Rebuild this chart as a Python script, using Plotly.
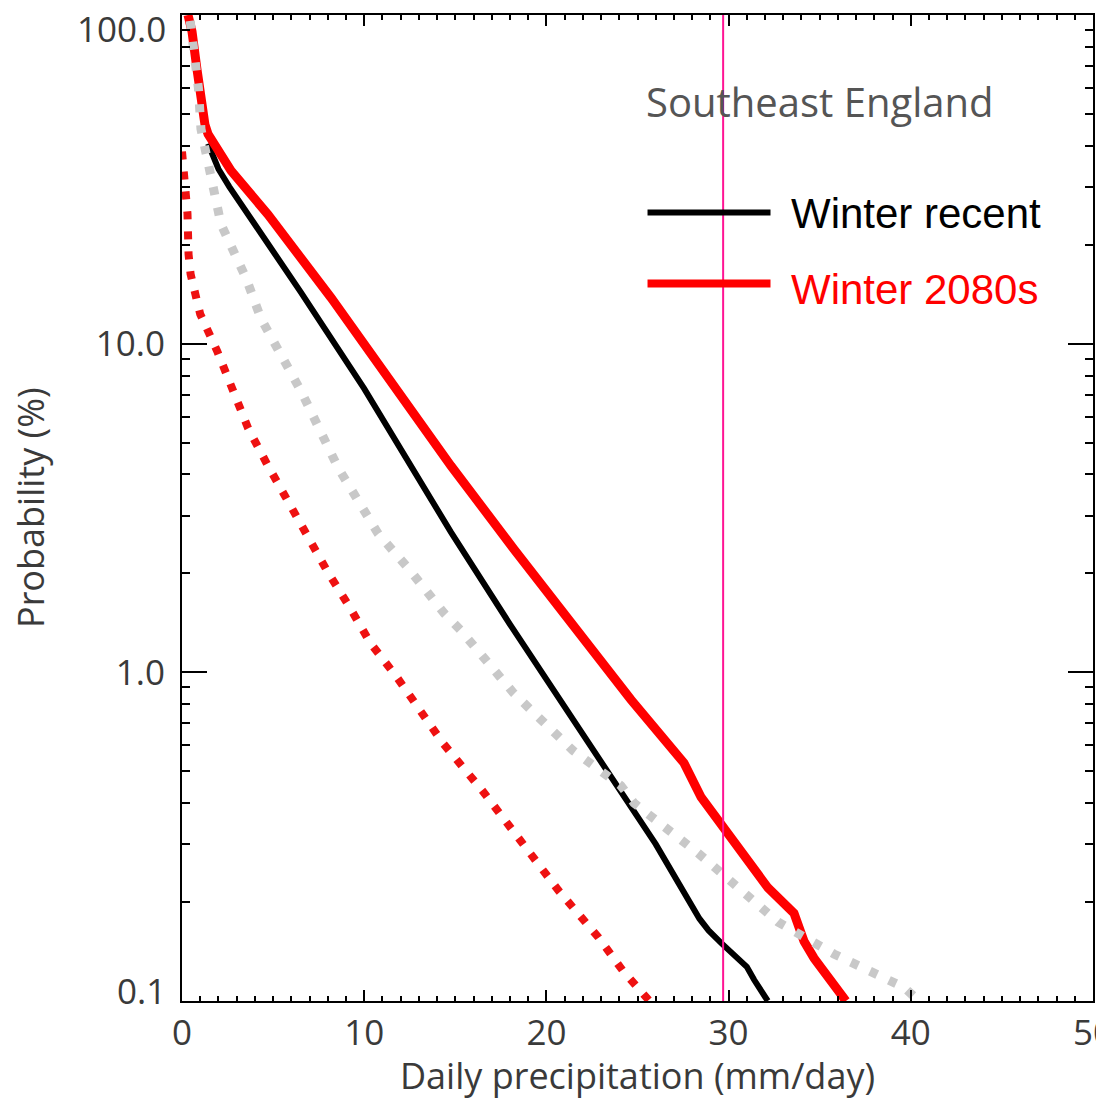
import math
import plotly.graph_objects as go

# ---- data ----
recent_x = [1.43, 2.0, 2.6, 6.5, 10.0, 14.76, 18.0, 23.0, 26.0, 28.4, 28.9, 29.6, 30.4, 31.0, 31.4, 32.15]
recent_p = [40.6, 34.0, 30.0, 14.4, 7.3, 2.67, 1.40, 0.54, 0.30, 0.178, 0.164, 0.150, 0.137, 0.127, 0.116, 0.100]

future_x = [0.33, 0.55, 0.82, 0.99, 1.26, 1.43, 2.69, 4.72, 6.53, 8.18, 14.76, 18.22,
            24.64, 27.0, 27.55, 28.49, 29.75, 31.0, 32.16, 33.59, 34.14, 34.69, 36.44]
future_p = [100.0, 89.0, 68.5, 58.3, 46.4, 43.4, 33.6, 24.7, 18.2, 13.8, 4.25, 2.37,
            0.826, 0.58, 0.53, 0.417, 0.338, 0.275, 0.221, 0.185, 0.152, 0.135, 0.100]

reddot_x = [0.0, 0.1, 0.2, 0.3, 0.36, 0.47, 0.74, 1.0, 1.93, 2.75, 3.63, 4.67, 5.77, 6.87,
            8.02, 9.23, 10.33, 11.81, 12.36, 14.34, 16.48, 18.57, 20.66, 22.86, 24.18, 25.66]
reddot_p = [38.4, 32.9, 28.6, 24.9, 18.7, 16.3, 14.1, 12.3, 9.5, 7.2, 5.53, 4.30, 3.32, 2.56,
            2.01, 1.57, 1.23, 0.964, 0.867, 0.607, 0.437, 0.308, 0.217, 0.156, 0.124, 0.100]

graydot_x = [0.45, 0.7, 0.9, 1.04, 1.43, 2.14, 3.52, 4.34, 6.54, 8.57, 10.77, 12.40, 14.4,
             15.31, 18.22, 21.46, 24.09, 24.81, 28.32, 32.71, 35.78, 39.63, 40.45]
graydot_p = [96.0, 78.0, 60.0, 45.0, 35.0, 23.1, 15.8, 11.9, 7.16, 4.19, 2.64, 2.08, 1.51,
             1.34, 0.862, 0.578, 0.452, 0.40, 0.282, 0.174, 0.139, 0.110, 0.100]

threshold_x = 29.7

x_ticks = [0, 10, 20, 30, 40, 50]
y_ticks = [0.1, 1.0, 10.0, 100.0]
# inner labels drawn by the axis; the two end labels are nudged inward (as in the
# reference) and are therefore placed as annotations at their tick values
y_tick_text = ["", "1.0", "10.0", ""]
y_end_labels = [(0.1, "0.1", 11), (100.0, "100.0", -13)]
y_minor = [m * d for d in (0.1, 1.0, 10.0) for m in range(2, 10)]

x_title = "Daily precipitation (mm/day)"
y_title = "Probability (%)"
legend_labels = ["Winter recent", "Winter 2080s"]
legend_colors = ["#000000", "#ff0000"]
region = "Southeast England"

# ---- figure ----
fig = go.Figure()
fig.add_trace(go.Scatter(x=recent_x, y=recent_p, mode="lines",
                         line=dict(color="#000000", width=6), showlegend=False))
fig.add_trace(go.Scatter(x=future_x, y=future_p, mode="lines",
                         line=dict(color="#ff0000", width=9), showlegend=False))
fig.add_trace(go.Scatter(x=reddot_x, y=reddot_p, mode="lines",
                         line=dict(color="#ee1111", width=8, dash="8px,12px"), showlegend=False))
fig.add_trace(go.Scatter(x=graydot_x, y=graydot_p, mode="lines",
                         line=dict(color="#c8c8c8", width=9, dash="8px,13px"), showlegend=False))

fig.add_shape(type="line", xref="x", yref="paper", x0=threshold_x, x1=threshold_x, y0=0, y1=1,
              line=dict(color="#ff1493", width=2))

tick_font = dict(family="Open Sans", size=35, color="#3a3a3a")
title_font = dict(family="Open Sans", size=36, color="#3a3a3a")

for val, txt, shift in y_end_labels:
    fig.add_annotation(xref="paper", yref="y", x=0, y=math.log10(val), text=txt,
                       showarrow=False, xanchor="right", yanchor="middle",
                       xshift=-14, yshift=shift, font=tick_font)

# y-axis title placed explicitly (left of the tick labels, as in the reference)
fig.add_annotation(xref="paper", yref="paper", x=0, y=0.5, text=y_title, textangle=-90,
                   showarrow=False, xanchor="center", yanchor="middle", xshift=-152,
                   font=title_font)

# legend drawn manually (long line samples)
legend_y = [0.7996, 0.7277]
legend_text_y = [0.7986, 0.7217]
legend_w = [6, 8]
for lab, col, ly, ty, w in zip(legend_labels, legend_colors, legend_y, legend_text_y, legend_w):
    fig.add_shape(type="line", xref="paper", yref="paper", x0=0.511, x1=0.646, y0=ly, y1=ly,
                  line=dict(color=col, width=w))
    fig.add_annotation(xref="paper", yref="paper", x=0.666, y=ty, text=lab, showarrow=False,
                       xanchor="left", yanchor="middle",
                       font=dict(family="Liberation Sans, Arial", size=42, color=col))

fig.add_annotation(xref="paper", yref="paper", x=0.5066, y=0.912, text=region, showarrow=False,
                   xanchor="left", yanchor="middle",
                   font=dict(family="Open Sans", size=40, color="#555555"))

fig.update_xaxes(range=[0, 50], tickvals=x_ticks, ticks="inside", ticklen=11, tickwidth=2,
                 tickcolor="black", showline=True, linecolor="black", linewidth=2,
                 mirror="allticks", showgrid=False, zeroline=False, tickfont=tick_font,
                 automargin=False, ticklabeloverflow="allow",
                 minor=dict(ticks="inside", dtick=1, ticklen=5, tickwidth=1.5, tickcolor="black",
                            showgrid=False),
                 title=dict(text=x_title, font=title_font))
fig.update_yaxes(type="log", range=[-1, 2], tickvals=y_ticks, ticktext=y_tick_text,
                 ticks="inside", ticklen=25, tickwidth=2, tickcolor="black",
                 showline=True, linecolor="black", linewidth=2, mirror="allticks",
                 showgrid=False, zeroline=False, tickfont=tick_font,
                 automargin=False, ticklabeloverflow="allow", ticklabelstandoff=8,
                 minor=dict(ticks="inside", tickvals=y_minor, ticklen=8, tickwidth=1.5,
                            tickcolor="black", showgrid=False))

# the page body adds an 8px offset; figure size/margins compensate so the
# plot area lands at the reference's pixel position
fig.update_layout(width=1096, height=1092, margin=dict(l=174, r=11, t=7, b=99),
                  plot_bgcolor="white", paper_bgcolor="white", showlegend=False)

fig.write_html("out.html")
